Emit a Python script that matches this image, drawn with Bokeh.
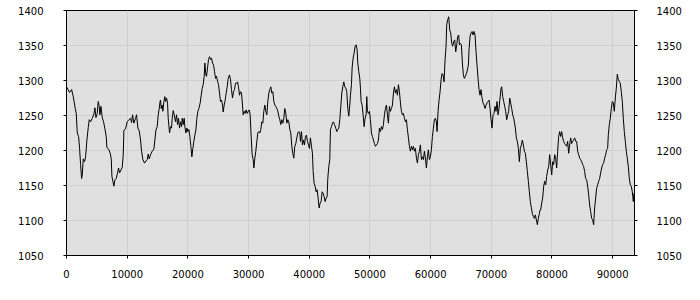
from bokeh.plotting import figure
from bokeh.models import Range1d, LinearAxis, SingleIntervalTicker
from bokeh.embed import file_html
from bokeh.resources import INLINE

x_values = [
    0, 510, 840, 1115, 1444, 1608, 1773, 1993, 2157, 2322, 2487, 2597, 2761, 2981, 3146, 3365, 3585, 3749, 3969, 4244,
    4518, 4683, 4847, 5067, 5232, 5396, 5506, 5671, 5890, 6110, 6330, 6549, 6659, 6933, 7208, 7373, 7483, 7647, 7812, 7977,
    8196, 8416, 8581, 8745, 8965, 9185, 9349, 9459, 9734, 10008, 10283, 10557, 10722, 10886, 11106, 11381, 11545, 11765, 11984, 12204,
    12369, 12588, 12863, 13082, 13302, 13467, 13631, 13851, 14126, 14400, 14565, 14729, 14949, 15114, 15278, 15443,
    15499, 15608, 15773, 15883, 16048, 16212, 16322, 16487, 16651, 16761, 16981, 17146, 17310, 17420, 17585, 17749, 17969, 18134, 18298, 18463,
    18628, 18792, 18957, 19067, 19232, 19396, 19506, 19671, 19836, 20000, 20165, 20330, 20494, 20659, 20824, 20989, 21153, 21318, 21483, 21647,
    21812, 22032, 22196, 22361, 22526, 22690, 22800, 22965, 23075, 23239, 23404, 23569, 23734, 23898, 24063, 24228, 24392, 24557, 24722, 24886,
    25051, 25216, 25380, 25545, 25710, 25820, 25984, 26149, 26314, 26478, 26643, 26863, 27028, 27192, 27357, 27522, 27686, 27851, 28016, 28180,
    28345, 28510, 28674, 28839, 29004, 29114, 29278, 29443, 29608, 29772, 29937, 30102, 30266, 30431, 30596, 30760, 30870,
    31035, 31199, 31364, 31529, 31694, 31858, 32023, 32188, 32352, 32517, 32682, 32846, 33011, 33176, 33340, 33505, 33670, 33834, 33999, 34164,
    34329, 34493, 34658, 34823, 34987, 35152, 35317, 35481, 35646, 35811, 35975, 36140, 36305, 36470, 36634, 36799, 36964, 37128, 37293, 37458,
    37622, 37787, 37952, 38117, 38281, 38446, 38556, 38721, 38885, 39050, 39215, 39379, 39544, 39709, 39874, 40038, 40203, 40368, 40532, 40642,
    40807, 40972, 41136, 41301, 41466, 41630, 41795, 41960, 42125, 42289, 42454, 42619, 42783, 42948, 43058, 43223, 43387, 43497, 43662, 43826,
    43991, 44156, 44375, 44540, 44705, 44870, 45034, 45199, 45364, 45528, 45693, 45858, 46022, 46187, 46352, 46517, 46681,
    46792, 46956, 47066, 47231, 47395, 47560, 47725, 47890, 48000, 48164, 48329, 48439, 48548, 48713, 48878, 49042, 49207, 49372, 49482, 49591,
    49756, 49921, 50086, 50250, 50415, 50580, 50744, 50909, 51074, 51238, 51403, 51568, 51733, 51897, 52062, 52227, 52391, 52556, 52721, 52885,
    53050, 53215, 53380, 53544, 53709, 53874, 54038, 54203, 54368, 54532, 54697, 54862, 55027, 55191, 55356, 55521, 55685, 55850, 56015, 56179,
    56344, 56509, 56674, 56838, 57003, 57168, 57332, 57497, 57662, 57826, 57991, 58156, 58321, 58485, 58650, 58815, 58979, 59144, 59309, 59473,
    59638, 59803, 59968, 60132, 60297, 60462, 60626, 60791, 60956, 61066, 61230, 61395, 61560, 61724, 61889, 62054, 62219, 62383,
    62547, 62657, 62822, 62987, 63151, 63316, 63481, 63645, 63810, 63975, 64139, 64304, 64469, 64634, 64743, 64908, 65073, 65237, 65402, 65567,
    65732, 65896, 66061, 66226, 66335, 66500, 66665, 66830, 66994, 67159, 67324, 67488, 67653, 67818, 67982, 68147, 68312, 68477, 68641, 68806,
    68971, 69135, 69300, 69465, 69629, 69794, 69959, 70124, 70288, 70453, 70618, 70782, 70947, 71112, 71276, 71441, 71606, 71716, 71880, 72045,
    72210, 72374, 72539, 72704, 72869, 73033, 73198, 73363, 73527, 73692, 73802, 73967, 74131, 74296, 74461, 74625, 74790, 74955, 75120, 75284,
    75449, 75614, 75778, 75943, 76108, 76272, 76437, 76602, 76766, 76931, 77096, 77261, 77425, 77590, 77755, 77920, 78029,
    78139, 78304, 78469, 78634, 78798, 78963, 79128, 79292, 79457, 79622, 79786, 79951, 80116, 80281, 80445, 80610, 80775, 80939, 81104, 81269,
    81433, 81598, 81763, 81928, 82092, 82257, 82422, 82586, 82751, 82916, 83080, 83245, 83410, 83575, 83739, 83904, 84069, 84233, 84398, 84563,
    84727, 84892, 85057, 85222, 85386, 85551, 85716, 85880, 86045, 86210, 86374, 86539, 86704, 86869, 87033, 87198, 87363, 87527, 87692, 87857,
    88021, 88186, 88351, 88516, 88680, 88845, 89010, 89174, 89284, 89449, 89614, 89778, 89943, 90108, 90272, 90437, 90602, 90766, 90931, 91096,
    91261, 91425, 91590, 91755, 91919, 92084, 92249, 92413, 92578, 92743, 92908, 93072, 93237, 93402, 93512,
]

y_values = [
    1291, 1283, 1287, 1277, 1260, 1253, 1225, 1220, 1203, 1180, 1160, 1165, 1188, 1184, 1191, 1215, 1233, 1244, 1241, 1246,
    1252, 1261, 1247, 1253, 1270, 1263, 1251, 1263, 1247, 1241, 1231, 1220, 1204, 1202, 1196, 1188, 1163, 1156, 1149, 1158,
    1160, 1168, 1175, 1168, 1172, 1176, 1194, 1229, 1231, 1241, 1244, 1246, 1240, 1251, 1239, 1246, 1251, 1232, 1228, 1215,
    1199, 1187, 1182, 1185, 1187, 1195, 1188, 1194, 1199, 1202, 1215, 1229, 1234, 1251, 1260, 1271,
    1272, 1260, 1265, 1256, 1270, 1277, 1270, 1275, 1268, 1246, 1225, 1234, 1232, 1246, 1257, 1251, 1241, 1251, 1237, 1246,
    1232, 1241, 1234, 1246, 1237, 1246, 1234, 1225, 1232, 1227, 1230, 1220, 1206, 1191, 1203, 1213, 1222, 1229, 1246, 1256,
    1260, 1268, 1279, 1289, 1294, 1306, 1325, 1308, 1306, 1318, 1330, 1334, 1330, 1332, 1325, 1322, 1313, 1303, 1306, 1299,
    1294, 1282, 1270, 1272, 1265, 1255, 1265, 1272, 1282, 1291, 1303, 1308, 1301, 1287, 1275, 1284, 1287, 1296, 1296, 1298,
    1291, 1279, 1284, 1282, 1265, 1251, 1256, 1253, 1258, 1253, 1256, 1258, 1251, 1220, 1194, 1187, 1175,
    1189, 1199, 1213, 1225, 1227, 1225, 1230, 1241, 1239, 1256, 1265, 1256, 1251, 1270, 1282, 1287, 1291, 1282, 1284, 1270,
    1265, 1263, 1260, 1256, 1249, 1244, 1237, 1244, 1239, 1246, 1260, 1253, 1239, 1244, 1241, 1230, 1225, 1206, 1196, 1189,
    1206, 1210, 1218, 1225, 1227, 1225, 1213, 1227, 1208, 1215, 1208, 1220, 1222, 1213, 1208, 1203, 1218, 1206, 1196, 1170,
    1153, 1149, 1141, 1144, 1132, 1118, 1125, 1127, 1141, 1139, 1134, 1127, 1132, 1134, 1160, 1177, 1187, 1230, 1234, 1239,
    1241, 1237, 1232, 1227, 1230, 1232, 1244, 1263, 1282, 1291, 1298, 1291, 1289, 1284, 1260, 1249, 1265,
    1279, 1294, 1318, 1332, 1339, 1349, 1351, 1344, 1325, 1313, 1303, 1289, 1270, 1265, 1251, 1234, 1246, 1251, 1277, 1256,
    1253, 1256, 1244, 1225, 1220, 1215, 1210, 1206, 1208, 1210, 1215, 1232, 1227, 1234, 1230, 1237, 1251, 1260, 1265, 1251,
    1239, 1263, 1256, 1260, 1265, 1282, 1291, 1282, 1287, 1279, 1294, 1284, 1268, 1256, 1251, 1253, 1246, 1241, 1244, 1230,
    1218, 1206, 1199, 1206, 1201, 1206, 1199, 1203, 1189, 1182, 1194, 1199, 1208, 1187, 1191, 1187, 1199, 1189, 1175, 1191,
    1201, 1187, 1191, 1201, 1220, 1232, 1244, 1246, 1241, 1227, 1256, 1272, 1284, 1301, 1310, 1308, 1298, 1330,
    1349, 1380, 1387, 1391, 1372, 1368, 1353, 1349, 1356, 1358, 1341, 1351, 1363, 1365, 1351, 1353, 1351, 1325, 1308, 1303,
    1306, 1310, 1315, 1322, 1344, 1363, 1368, 1370, 1365, 1370, 1365, 1341, 1322, 1303, 1287, 1279, 1287, 1275, 1268, 1265,
    1260, 1265, 1268, 1270, 1272, 1260, 1244, 1232, 1251, 1253, 1263, 1256, 1270, 1251, 1260, 1275, 1289, 1291, 1277, 1270,
    1263, 1256, 1244, 1251, 1256, 1275, 1268, 1260, 1251, 1246, 1241, 1232, 1218, 1213, 1203, 1184, 1203, 1208, 1215, 1208,
    1199, 1196, 1184, 1170, 1156, 1141, 1127, 1118, 1110, 1106, 1103, 1108, 1101, 1094, 1103, 1110, 1115,
    1115, 1125, 1132, 1149, 1156, 1151, 1163, 1172, 1177, 1194, 1180, 1165, 1184, 1180, 1194, 1189, 1175, 1199, 1220, 1227,
    1220, 1227, 1218, 1213, 1210, 1208, 1206, 1213, 1196, 1208, 1218, 1210, 1213, 1215, 1218, 1213, 1213, 1199, 1194, 1189,
    1187, 1184, 1180, 1177, 1170, 1160, 1158, 1149, 1137, 1122, 1113, 1103, 1101, 1094, 1118, 1132, 1146, 1151, 1156, 1160,
    1168, 1175, 1180, 1182, 1189, 1194, 1201, 1203, 1222, 1237, 1246, 1260, 1270, 1268, 1256, 1275, 1289, 1309, 1301, 1299,
    1296, 1284, 1270, 1246, 1227, 1213, 1199, 1189, 1177, 1160, 1151, 1149, 1141, 1127, 1139,
]

x_start, x_end = 0, 93600
y_start, y_end = 1050, 1400
x_tick_step = 10000
y_tick_step = 50

FONT = "DejaVu Sans"

p = figure(
    width=700, height=300,
    output_backend="svg", toolbar_location=None,
    x_range=Range1d(x_start, x_end), y_range=Range1d(y_start, y_end),
    min_border_left=66, min_border_right=66, min_border_top=10, min_border_bottom=45,
    background_fill_color="#e0e0e0", border_fill_color="white",
    outline_line_color="black", outline_line_width=1,
)

p.line(x_values, y_values, line_color="black", line_width=1)

p.xaxis.ticker = SingleIntervalTicker(interval=x_tick_step)
p.yaxis.ticker = SingleIntervalTicker(interval=y_tick_step)

right_axis = LinearAxis(ticker=SingleIntervalTicker(interval=y_tick_step))
p.add_layout(right_axis, "right")

for ax in [p.xaxis[0], p.yaxis[0], right_axis]:
    ax.axis_line_color = "black"
    ax.major_tick_line_color = "black"
    ax.major_tick_in = 0
    ax.major_tick_out = 3
    ax.minor_tick_line_color = None
    ax.major_label_text_font = FONT
    ax.major_label_text_font_size = "10px"
    ax.major_label_text_color = "black"

p.xaxis[0].major_label_standoff = 10
p.yaxis[0].major_label_standoff = 19
right_axis.major_label_standoff = 18

p.xgrid.grid_line_color = "#d0d0d0"
p.ygrid.grid_line_color = "#d0d0d0"
p.xgrid.ticker = SingleIntervalTicker(interval=x_tick_step)
p.ygrid.ticker = SingleIntervalTicker(interval=y_tick_step)

open("out.html", "w").write(file_html(p, INLINE))
